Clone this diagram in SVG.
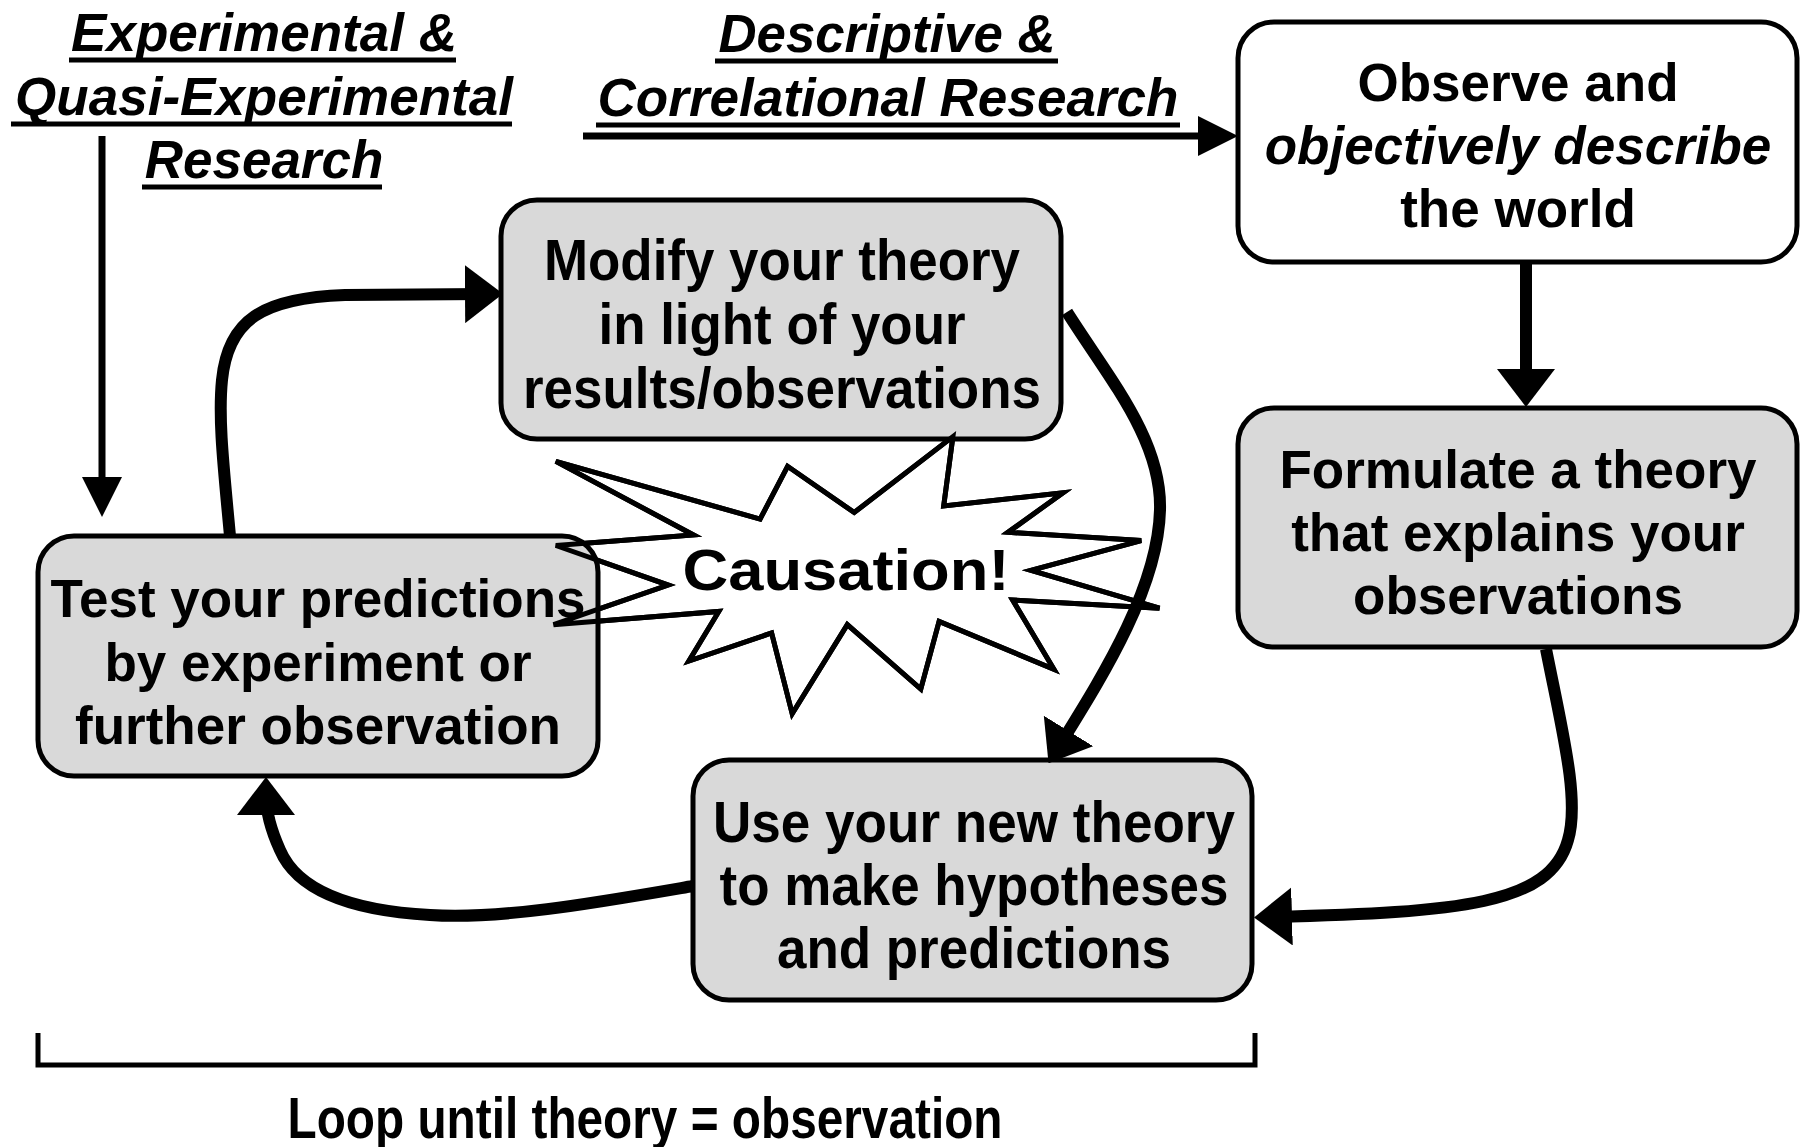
<svg xmlns="http://www.w3.org/2000/svg" width="1803" height="1147" viewBox="0 0 1803 1147">
<defs>
<style>
.box{fill:#d9d9d9;stroke:#000;stroke-width:5}
.wbox{fill:#fff;stroke:#000;stroke-width:5}
.t{font-family:"Liberation Sans",Arial,sans-serif;font-weight:bold;font-size:53px;fill:#000;text-anchor:middle}
.n{font-family:"Liberation Sans",Arial,sans-serif;font-weight:bold;font-size:57px;fill:#000;text-anchor:middle}
.hi{font-family:"Liberation Sans",Arial,sans-serif;font-weight:bold;font-style:italic;font-size:53px;fill:#000;text-anchor:middle}
.ul{stroke:#000;stroke-width:5;fill:none}
.thick{fill:none;stroke:#000;stroke-width:12}
.thin{fill:none;stroke:#000;stroke-width:7}
.star{fill:#fff;stroke:#000;stroke-width:5;stroke-linejoin:miter}
.staro{fill:none;stroke:#000;stroke-width:5}
</style>
<marker id="big" markerUnits="userSpaceOnUse" viewBox="0 0 38 58" markerWidth="38" markerHeight="58" refX="20" refY="29" orient="auto"><path d="M0,0 L38,29 L0,58 Z" fill="#000"/></marker>
<marker id="small" markerUnits="userSpaceOnUse" viewBox="0 0 40 40" markerWidth="40" markerHeight="40" refX="30" refY="20" orient="auto"><path d="M0,0 L40,20 L0,40 Z" fill="#000"/></marker>
<polygon id="starshape" points="555.8,461.4 760.1,519.1 787.6,466.3 854.2,512.5 952.9,436.6 943.7,505.9 1063.1,492.7 1008.0,532.3 1141.2,540.6 1031.0,570.3 1159.5,608.2 1012.6,600.0 1053.9,669.3 939.1,621.4 920.8,689.1 847.3,624.7 792.2,713.8 771.6,633.0 688.9,661.0 718.8,611.5 553.5,624.7 668.2,585.1 555.8,545.5 693.5,535.0"/>
</defs>
<rect width="1803" height="1147" fill="#fff"/>

<g id="header-experimental">
<text class="hi" x="264" y="51">Experimental &amp;</text>
<line class="ul" x1="69" y1="60" x2="456" y2="60"/>
<text class="hi" x="264" y="115">Quasi-Experimental</text>
<line class="ul" x1="11" y1="124" x2="512" y2="124"/>
<text class="hi" x="264" y="178">Research</text>
<line class="ul" x1="142" y1="187" x2="382" y2="187"/>
</g>

<g id="header-descriptive">
<text class="hi" x="887" y="52" textLength="337" lengthAdjust="spacingAndGlyphs">Descriptive &amp;</text>
<line class="ul" x1="715" y1="61" x2="1058" y2="61"/>
<text class="hi" x="888" y="116" textLength="581" lengthAdjust="spacingAndGlyphs">Correlational Research</text>
<line class="ul" x1="596" y1="125" x2="1180" y2="125"/>
</g>

<g id="causation">
<use href="#starshape" class="star"/>
<text class="n" x="846" y="590" font-size="60" textLength="327" lengthAdjust="spacingAndGlyphs">Causation!</text>
</g>

<g id="node-observe">
<rect class="wbox" x="1238" y="22" width="559" height="240" rx="36"/>
<text class="t" x="1518" y="101">Observe and</text>
<text class="hi" x="1518" y="164">objectively describe</text>
<text class="t" x="1518" y="227">the world</text>
</g>

<g id="node-formulate">
<rect class="box" x="1238" y="408" width="559" height="239" rx="36"/>
<text class="t" x="1518" y="488">Formulate a theory</text>
<text class="t" x="1518" y="551">that explains your</text>
<text class="t" x="1518" y="614">observations</text>
</g>

<g id="node-modify">
<rect class="box" x="501" y="200" width="560" height="239" rx="36"/>
<text class="n" x="782" y="280" textLength="476" lengthAdjust="spacingAndGlyphs">Modify your theory</text>
<text class="n" x="782" y="344" textLength="367" lengthAdjust="spacingAndGlyphs">in light of your</text>
<text class="n" x="782" y="408" textLength="518" lengthAdjust="spacingAndGlyphs">results/observations</text>
</g>

<g id="node-test">
<rect class="box" x="38" y="536" width="560" height="240" rx="36"/>
<text class="t" x="318" y="617">Test your predictions</text>
<text class="t" x="318" y="681">by experiment or</text>
<text class="t" x="318" y="744">further observation</text>
</g>

<g id="causation-outline">
<use href="#starshape" class="staro"/>
</g>

<g id="node-use">
<rect class="box" x="693" y="760" width="559" height="240" rx="36"/>
<text class="n" x="974" y="842" textLength="522" lengthAdjust="spacingAndGlyphs">Use your new theory</text>
<text class="n" x="974" y="905" textLength="509" lengthAdjust="spacingAndGlyphs">to make hypotheses</text>
<text class="n" x="974" y="968" textLength="394" lengthAdjust="spacingAndGlyphs">and predictions</text>
</g>

<g id="loop-label">
<path d="M38,1033 V1065 H1255 V1033" fill="none" stroke="#000" stroke-width="5"/>
<text class="n" x="645" y="1138" font-size="48" textLength="715" lengthAdjust="spacingAndGlyphs">Loop until theory = observation</text>
</g>

<g id="connectors">
<line class="thin" x1="102" y1="136" x2="102" y2="507" stroke-width="8" marker-end="url(#small)"/>
<line class="thin" x1="583" y1="136" x2="1228" y2="136" marker-end="url(#small)"/>
<line class="thick" x1="1526" y1="263" x2="1526" y2="389" marker-end="url(#big)"/>
<path class="thick" d="M1546,649 C1562,730 1580,800 1568,840 C1550,905 1460,912 1272,917" marker-end="url(#big)"/>
<path class="thick" d="M1067,312 C1110,380 1162,440 1160,510 C1158,590 1100,680 1058,748" marker-end="url(#big)"/>
<path class="thick" d="M693,886 C600,902 500,920 430,915 C340,910 295,885 280,850 C270,828 266,812 266,795" marker-end="url(#big)"/>
<path class="thick" d="M230,536 C224,470 218,420 222,380 C228,320 262,298 345,295 L485,294" marker-end="url(#big)"/>
</g>
</svg>
